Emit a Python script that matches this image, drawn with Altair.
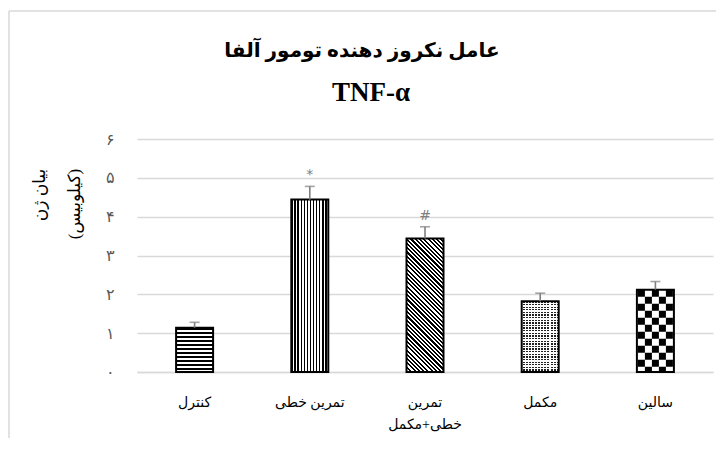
import altair as alt
import pandas as pd

# ---- data ----
categories = ["کنترل", "تمرین خطی", "تمرین خطی+مکمل", "مکمل", "سالین"]
values = [1.14, 4.44, 3.44, 1.82, 2.12]
errors = [0.14, 0.34, 0.30, 0.21, 0.21]
marks = ["", "*", "#", "", ""]
y_ticks = [0, 1, 2, 3, 4, 5, 6]
y_tick_labels = ["۰", "۱", "۲", "۳", "۴", "۵", "۶"]
title_fa = "عامل نکروز دهنده تومور آلفا"
title_en = "TNF-α"
y_title_lines = ["بیان ژن", "(کیلوبیس)"]

df = pd.DataFrame({
    "cat": categories,
    "val": values,
    "err": errors,
    "mark": marks,
})
df["top"] = df["val"] + df["err"]

W, H = 576, 233
BAR_W = 37
PX_PER_UNIT = H / 6.0
FA_FONT = "Times New Roman, Liberation Serif, DejaVu Sans"
GRID = "#d9d9d9"
ERR = "#7f7f7f"


def stripes(n, frac, c1, c2, x1, y1, x2, y2):
    stops = []
    for i in range(n):
        a = i / n
        m = (i + frac) / n
        b = (i + 1) / n
        stops += [alt.GradientStop(color=c1, offset=a), alt.GradientStop(color=c1, offset=m),
                  alt.GradientStop(color=c2, offset=m), alt.GradientStop(color=c2, offset=b)]
    return alt.LinearGradient(gradient="linear", stops=stops, x1=x1, y1=y1, x2=x2, y2=y2)


CLEAR = "rgba(255,255,255,0)"

x_axis = alt.Axis(labelAngle=0, ticks=False, domainColor=GRID, domainWidth=1.5,
                  labelColor="black", labelFontSize=14, labelFont=FA_FONT,
                  labelPadding=30, labelLineHeight=22, labelBaseline="middle",
                  labelExpr="datum.value == 'تمرین خطی+مکمل' ? ['تمرین', 'خطی+مکمل'] : datum.value")
y_axis = alt.Axis(values=y_ticks, tickCount=7, grid=True, gridColor=GRID, gridWidth=1.3,
                  domain=False, ticks=False, labelColor="#595959", labelFontSize=16,
                  labelFont=FA_FONT, labelPadding=23, labelOverlap=False,
                  labelExpr="%s[datum.value]" % str(y_tick_labels))
y_scale = alt.Scale(domain=[0, 6], nice=False)

x_enc = alt.X("cat:N", sort=categories, title=None,
              scale=alt.Scale(paddingInner=0, paddingOuter=0), axis=x_axis)
y_enc = alt.Y("val:Q", title=None, scale=y_scale, axis=y_axis)
y_top = alt.Y("top:Q", title=None, scale=y_scale, axis=y_axis)

base = alt.Chart(df).encode(x=x_enc, y=y_enc)


def only(i):
    return alt.datum.cat == categories[i]


def bar_layer(i, grad):
    return base.mark_bar(size=BAR_W, fill=grad, strokeWidth=0).transform_filter(only(i))


def px_h(i):
    return values[i] * PX_PER_UNIT


layers = []
# control: horizontal lines
layers.append(bar_layer(0, stripes(max(1, round(px_h(0) / 4)), 0.45, "black", "white", 0, 0, 0, 1)))
# linear training: vertical lines
layers.append(bar_layer(1, stripes(12, 0.45, "black", "white", 0, 0, 1, 0)))
# combined: diagonal lines
w, h = BAR_W, px_h(2)
t = w * (w + h) / (w * w + h * h)
layers.append(bar_layer(2, stripes(round((w + h) / 4.3), 0.5, "black", "white", 0, 1, t, 1 - t * h / w)))
# supplement: dotted
layers.append(bar_layer(3, stripes(round(px_h(3) / 2.6), 0.5, "#222222", "white", 0, 0, 0, 1)))
layers.append(bar_layer(3, stripes(12, 0.35, "white", CLEAR, 0, 0, 1, 0)))
# saline: checkerboard (white bar + dashed columns)
layers.append(bar_layer(4, "white"))
CELL = 7
for k, off in enumerate([-14, -7, 0, 7, 14]):
    layers.append(
        base.mark_rule(color="black", strokeWidth=CELL, xOffset=off,
                       strokeDash=[CELL, CELL], strokeDashOffset=(k % 2) * CELL)
        .encode(y=y_enc, y2=alt.datum(0))
        .transform_filter(only(4))
    )

# outline
layers.append(base.mark_bar(size=BAR_W, fillOpacity=0, stroke="black", strokeWidth=2))

# error bars
layers.append(base.mark_rule(color=ERR, strokeWidth=1.6).encode(y=y_enc, y2="top:Q"))
layers.append(base.mark_tick(color=ERR, size=10, thickness=1.6).encode(y=y_top))
# significance marks
layers.append(base.mark_text(color=ERR, fontSize=14, baseline="middle", dy=-11,
                             font="DejaVu Sans").encode(y=y_top, text="mark:N")
              .transform_filter(alt.datum.mark != ""))

one = alt.Chart(pd.DataFrame({"k": [0]}))
# titles
layers.append(one.mark_text(text=title_fa, fontSize=20, fontWeight="bold", font=FA_FONT,
                            color="black", baseline="middle", align="center")
              .encode(x=alt.value(225), y=alt.value(-88)))
layers.append(one.mark_text(text=title_en, fontSize=27, fontWeight="bold", font="Liberation Serif",
                            color="black", baseline="middle", align="center")
              .encode(x=alt.value(234), y=alt.value(-46)))
# y title (two rotated lines)
layers.append(one.mark_text(text=y_title_lines[0], fontSize=17, font=FA_FONT, color="black",
                            angle=270, baseline="middle", align="center")
              .encode(x=alt.value(-97), y=alt.value(56)))
layers.append(one.mark_text(text=y_title_lines[1], fontSize=17, font=FA_FONT, color="black",
                            angle=270, baseline="middle", align="center")
              .encode(x=alt.value(-62), y=alt.value(65)))
# chart border
layers.append(one.mark_rule(color=GRID, strokeWidth=1.5)
              .encode(x=alt.value(-128), y=alt.value(-128), y2=alt.value(320)))
layers.append(one.mark_rule(color=GRID, strokeWidth=1.5)
              .encode(x=alt.value(-128), x2=alt.value(600), y=alt.value(-128)))

chart = alt.layer(*layers).properties(
    width=W, height=H,
    autosize=alt.AutoSizeParams(type="none"),
    padding={"left": 129, "top": 131, "right": 3, "bottom": 66},
).configure_view(stroke=None)

chart.save("out.html", embed_options={"renderer": "svg", "actions": False})
